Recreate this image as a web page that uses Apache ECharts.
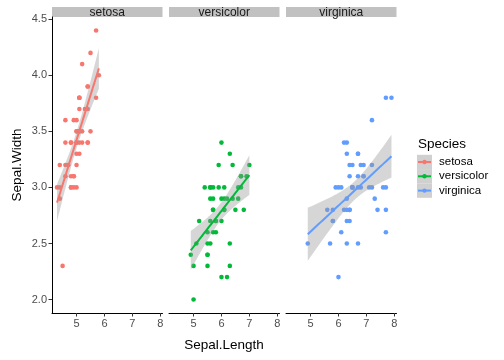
<!DOCTYPE html>
<html><head><meta charset="utf-8">
<script src="https://cdn.jsdelivr.net/npm/echarts@6/dist/echarts.min.js"></script>
<style>html,body{margin:0;padding:0;background:#fff}#c{width:504px;height:360px}</style>
</head><body><div id="c"></div>
<script>
const species = ['setosa','versicolor','virginica'];
const colors = ['#F8766D','#00BA38','#619CFF'];
const setosaLength = [5.1,4.9,4.7,4.6,5.0,5.4,4.6,5.0,4.4,4.9,5.4,4.8,4.8,4.3,5.8,5.7,5.4,5.1,5.7,5.1,5.4,5.1,4.6,5.1,4.8,5.0,5.0,5.2,5.2,4.7,4.8,5.4,5.2,5.5,4.9,5.0,5.5,4.9,4.4,5.1,5.0,4.5,4.4,5.0,5.1,4.8,5.1,4.6,5.3,5.0];
const setosaWidth = [3.5,3.0,3.2,3.1,3.6,3.9,3.4,3.4,2.9,3.1,3.7,3.4,3.0,3.0,4.0,4.4,3.9,3.5,3.8,3.8,3.4,3.7,3.6,3.3,3.4,3.0,3.4,3.5,3.4,3.2,3.1,3.4,4.1,4.2,3.1,3.2,3.5,3.6,3.0,3.4,3.5,2.3,3.2,3.5,3.8,3.0,3.8,3.2,3.7,3.3];
const versicolorLength = [7.0,6.4,6.9,5.5,6.5,5.7,6.3,4.9,6.6,5.2,5.0,5.9,6.0,6.1,5.6,6.7,5.6,5.8,6.2,5.6,5.9,6.1,6.3,6.1,6.4,6.6,6.8,6.7,6.0,5.7,5.5,5.5,5.8,6.0,5.4,6.0,6.7,6.3,5.6,5.5,5.5,6.1,5.8,5.0,5.6,5.7,5.7,6.2,5.1,5.7];
const versicolorWidth = [3.2,3.2,3.1,2.3,2.8,2.8,3.3,2.4,2.9,2.7,2.0,3.0,2.2,2.9,2.9,3.1,3.0,2.7,2.2,2.5,3.2,2.8,2.5,2.8,2.9,3.0,2.8,3.0,2.9,2.6,2.4,2.4,2.7,2.7,3.0,3.4,3.1,2.3,3.0,2.5,2.6,3.0,2.6,2.3,2.7,3.0,2.9,2.9,2.5,2.8];
const virginicaLength = [6.3,5.8,7.1,6.3,6.5,7.6,4.9,7.3,6.7,7.2,6.5,6.4,6.8,5.7,5.8,6.4,6.5,7.7,7.7,6.0,6.9,5.6,7.7,6.3,6.7,7.2,6.2,6.1,6.4,7.2,7.4,7.9,6.4,6.3,6.1,7.7,6.3,6.4,6.0,6.9,6.7,6.9,5.8,6.8,6.7,6.7,6.3,6.5,6.2,5.9];
const virginicaWidth = [3.3,2.7,3.0,2.9,3.0,3.0,2.5,2.9,2.5,3.6,3.2,2.7,3.0,2.5,2.8,3.2,3.0,3.8,2.6,2.2,3.2,2.8,2.8,2.7,3.3,3.2,2.8,3.0,2.8,3.0,2.8,3.8,2.8,2.8,2.6,3.0,3.4,3.1,3.0,3.1,3.1,3.1,2.7,3.2,3.3,3.0,2.5,3.0,3.4,3.0];
const xTicks = [5,6,7,8];
const yTicks = [2.0,2.5,3.0,3.5,4.0,4.5];

const lengths = [setosaLength, versicolorLength, virginicaLength];
const widths = [setosaWidth, versicolorWidth, virginicaWidth];

// linear model fit (like geom_smooth(method = "lm")) with 95% confidence band
function lmFit(xs, ys) {
  const n = xs.length;
  const mx = xs.reduce((a,b)=>a+b,0)/n, my = ys.reduce((a,b)=>a+b,0)/n;
  let sxx=0, sxy=0;
  for (let i=0;i<n;i++){ sxx+=(xs[i]-mx)**2; sxy+=(xs[i]-mx)*(ys[i]-my); }
  const b = sxy/sxx, a = my - b*mx;
  let rss=0; for (let i=0;i<n;i++){ rss += (ys[i]-a-b*xs[i])**2; }
  const s = Math.sqrt(rss/(n-2));
  const t = 2.0106; // t quantile, df = 48
  const lo = Math.min(...xs), hi = Math.max(...xs);
  const fit=[], upper=[], lower=[];
  for (let k=0;k<80;k++){
    const x = lo + (hi-lo)*k/79;
    const y = a + b*x;
    const se = s*Math.sqrt(1/n + (x-mx)**2/sxx);
    fit.push([x,y]); lower.push([x,y-t*se]); upper.push([x,y+t*se]);
  }
  return {fit, upper, lower};
}

const panelLeft = [52, 169, 286];
const panelW = 110.5, panelTop = 17, panelH = 296;
const grids=[], xAxes=[], yAxes=[], series=[], graphics=[];
species.forEach((sp, i) => {
  grids.push({left: panelLeft[i], top: panelTop, width: panelW, height: panelH, containLabel:false});
  xAxes.push({type:'value', gridIndex:i, min:4.12, max:8.08,
    axisLine:{show:true, onZero:false, lineStyle:{color:'#000', width:1}},
    axisTick:{show:true, length:3.5, customValues:xTicks, lineStyle:{color:'#333'}},
    axisLabel:{show:true, customValues:xTicks, color:'#4D4D4D', fontSize:11, fontFamily:'Liberation Sans', margin:5},
    splitLine:{show:false}});
  yAxes.push({type:'value', gridIndex:i, min:1.88, max:4.52,
    axisLine:{show:i===0, onZero:false, lineStyle:{color:'#000', width:1}},
    axisTick:{show:i===0, length:3.5, customValues:yTicks, lineStyle:{color:'#333'}},
    axisLabel:{show:i===0, customValues:yTicks, color:'#4D4D4D', fontSize:11, fontFamily:'Liberation Sans', margin:5,
      formatter:v=>v.toFixed(1)},
    splitLine:{show:false}});
  const pts = lengths[i].map((x,j)=>[x, widths[i][j]]);
  series.push({type:'scatter', name:sp, xAxisIndex:i, yAxisIndex:i, data:pts, symbolSize:4.6,
    itemStyle:{color:colors[i], opacity:1}, z:2, silent:true});
  const f = lmFit(lengths[i], widths[i]);
  const poly = f.upper.concat(f.lower.slice().reverse());
  series.push({type:'custom', coordinateSystem:'cartesian2d', xAxisIndex:i, yAxisIndex:i,
    data:[f.fit[40]], z:3, silent:true,
    renderItem:(params, api)=>({type:'polygon', shape:{points: poly.map(p=>api.coord(p))},
      style:{fill:'#999999', opacity:0.4}})});
  series.push({type:'line', xAxisIndex:i, yAxisIndex:i, data:f.fit, symbol:'none',
    lineStyle:{color:colors[i], width:2}, z:4, silent:true});
  graphics.push({type:'rect', shape:{x:panelLeft[i], y:7, width:panelW, height:10}, style:{fill:'#C1C1C1'}});
  graphics.push({type:'text', x:panelLeft[i]+panelW/2, y:12.5, style:{text:sp, fill:'#1A1A1A', fontSize:12,
    fontFamily:'Liberation Sans', align:'center', verticalAlign:'middle'}});
});
// axis titles
graphics.push({type:'text', x:224, y:345, style:{text:'Sepal.Length', fill:'#000', fontSize:13.5, fontFamily:'Liberation Sans', align:'center', verticalAlign:'middle'}});
graphics.push({type:'text', x:17, y:165, rotation:Math.PI/2, style:{text:'Sepal.Width', fill:'#000', fontSize:13.5, fontFamily:'Liberation Sans', align:'center', verticalAlign:'middle'}});
// legend
graphics.push({type:'text', x:418, y:144, style:{text:'Species', fill:'#000', fontSize:13.5, fontFamily:'Liberation Sans', align:'left', verticalAlign:'middle'}});
species.forEach((sp,i)=>{
  const cy = 162 + i*14.3;
  graphics.push({type:'rect', shape:{x:417, y:cy-7.2, width:15, height:14.4}, style:{fill:'#D0D0D0'}});
  graphics.push({type:'line', shape:{x1:418, y1:cy, x2:431, y2:cy}, style:{stroke:colors[i], lineWidth:2}});
  graphics.push({type:'circle', shape:{cx:424.5, cy:cy, r:2.2}, style:{fill:colors[i]}});
  graphics.push({type:'text', x:439, y:cy, style:{text:sp, fill:'#000', fontSize:11.5, fontFamily:'Liberation Sans', align:'left', verticalAlign:'middle'}});
});

const chart = echarts.init(document.getElementById('c'), null, {renderer:'canvas'});
chart.setOption({animation:false, backgroundColor:'#fff', grid:grids, xAxis:xAxes, yAxis:yAxes, series:series, graphic:graphics});
</script></body></html>
